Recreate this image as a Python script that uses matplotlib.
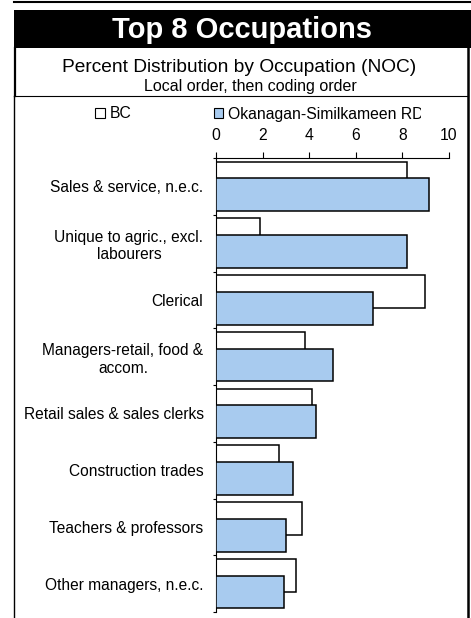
import matplotlib
matplotlib.use("Agg")
import matplotlib.pyplot as plt
from matplotlib.patches import Rectangle
from matplotlib.lines import Line2D
from matplotlib.transforms import Bbox, TransformedBbox
import numpy as np

plt.rcParams['font.family'] = ['Liberation Sans', 'DejaVu Sans']

occupations = ["Sales & service, n.e.c.",
               "Unique to agric., excl.\nlabourers",
               "Clerical",
               "Managers-retail, food &\naccom.",
               "Retail sales & sales clerks",
               "Construction trades",
               "Teachers & professors",
               "Other managers, n.e.c."]
bc = [8.2, 1.9, 8.95, 3.8, 4.1, 2.7, 3.7, 3.45]
okanagan = [9.15, 8.2, 6.75, 5.0, 4.3, 3.3, 3.0, 2.9]
xticks = [0, 2, 4, 6, 8, 10]

W, H = 471, 618
fig = plt.figure(figsize=(W / 100, H / 100), dpi=100)

def fx(px):
    return px / W

def fy(py):
    return 1 - py / H

# frame pieces around the chart
fig.add_artist(Line2D([fx(14), 1], [fy(2), fy(2)], color="black", lw=1.5))
fig.add_artist(Rectangle((fx(14), fy(48)), 1 - fx(14), fy(10) - fy(48),
                         facecolor="black", edgecolor="none"))
fig.add_artist(Line2D([fx(15), fx(15)], [fy(48), fy(96)], color="black", lw=1.6))
fig.add_artist(Line2D([fx(468), fx(468)], [fy(48), 0], color="black", lw=1.8))
fig.add_artist(Line2D([fx(13.5), fx(468)], [fy(96), fy(96)], color="black", lw=0.8))
fig.add_artist(Line2D([fx(13.5), fx(13.5)], [fy(96), 0], color="black", lw=1.0))

fig.text(fx(242), fy(30), "Top 8 Occupations", color="white", fontsize=21,
         fontweight="bold", ha="center", va="center")
fig.text(fx(239.5), fy(67), "Percent Distribution by Occupation (NOC)",
         fontsize=13.8, ha="center", va="center")
fig.text(fx(250.5), fy(87), "Local order, then coding order",
         fontsize=11.5, ha="center", va="center")

ax = fig.add_axes([fx(216), fy(612), fx(449) - fx(216), fy(158) - fy(612)])
y = np.arange(len(occupations))
h = 0.58
off = 0.147
ax.barh(y - off, bc, height=h, color="white", edgecolor="black", lw=1.1,
        label="BC", zorder=2)
ax.barh(y + off, okanagan, height=h, color="#A8CBEF", edgecolor="black", lw=1.1,
        label="Okanagan-Similkameen RD", zorder=3)

ax.set_xlim(0, 10)
ax.set_ylim(7.5, -0.5)
ax.xaxis.tick_top()
ax.set_xticks(xticks)
ax.tick_params(axis="x", length=4, width=0.8, pad=7, labelsize=11.3)
ax.set_yticks(y)
ax.set_yticklabels(occupations, fontsize=11.2, multialignment="center")
ax.tick_params(axis="y", length=0, pad=9)
ax.set_yticks(np.arange(-0.5, 8, 1), minor=True)
ax.tick_params(axis="y", which="minor", length=2.2, width=0.8)
for s in ["right", "bottom"]:
    ax.spines[s].set_visible(False)
ax.spines["top"].set_linewidth(0.8)
ax.spines["left"].set_linewidth(0.8)

leg = fig.legend(loc="center left", bbox_to_anchor=(fx(87), fy(114)), ncol=2,
                 frameon=False, fontsize=11.3, handlelength=0.62, handleheight=0.62,
                 handletextpad=0.3, columnspacing=5.27, borderpad=0)
for p in leg.get_patches():
    p.set_linewidth(0.8)
clip = TransformedBbox(Bbox([[0, 0], [fx(421), 1]]), fig.transFigure)
for t in leg.get_texts():
    t.set_clip_box(clip)
    t.set_clip_on(True)

fig.savefig("out.png", dpi=100)
